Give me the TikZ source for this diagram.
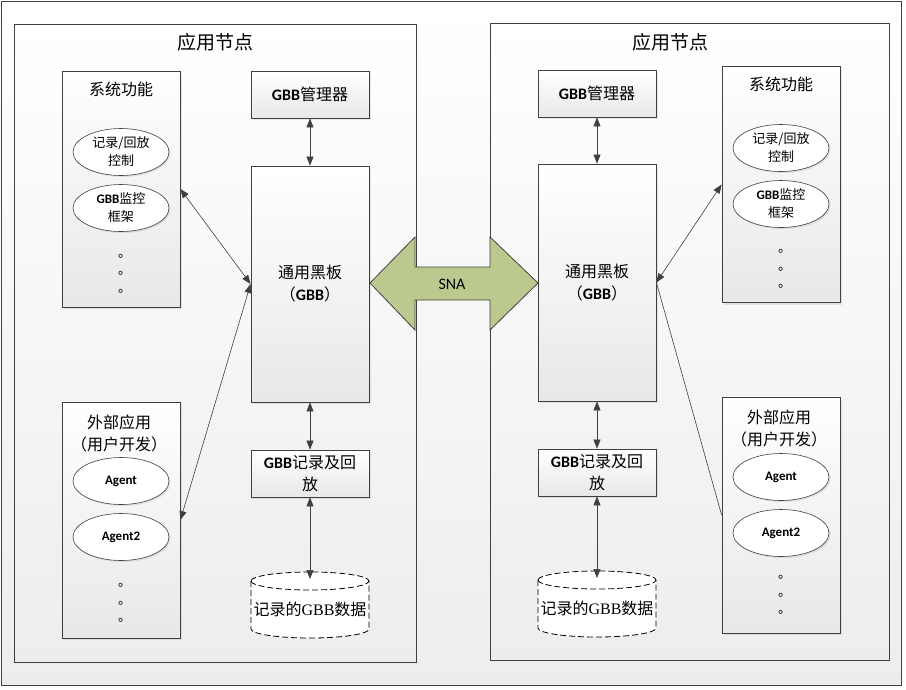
\documentclass[tikz,border=0pt]{standalone}
\usepackage{fontspec}
\setmainfont{Noto Sans CJK SC}
\newfontfamily\latin{Carlito}
\newfontfamily\serif{Liberation Serif}
\usepackage{tikz}
\usetikzlibrary{positioning,shapes.geometric,arrows.meta,shadows}
\tikzset{>={Triangle[length=9pt,width=7pt]}}
\definecolor{line}{RGB}{64,64,64}
\definecolor{snagreen}{RGB}{187,201,143}
\newcommand{\gbb}{{\latin\bfseries GBB}}

\begin{document}
\begin{tikzpicture}[x=1pt,y=-1pt,
  frame/.style={draw=line,line width=.8pt,top color=white,bottom color=black!7},
  box/.style={draw=line,line width=.8pt,top color=white,bottom color=black!9,minimum width=118pt,inner sep=0pt,align=center,
    drop shadow={opacity=.18,shadow xshift=2pt,shadow yshift=-2pt},font=\fontsize{16}{22}\selectfont},
  oval/.style={ellipse,draw=line,line width=.6pt,fill=white,minimum width=96pt,minimum height=47pt,inner sep=0pt,align=center,
    drop shadow={opacity=.18,shadow xshift=1.5pt,shadow yshift=-1.5pt},font=\fontsize{13}{18}\selectfont},
  agent/.style={oval,font=\fontsize{13}{15}\latin\bfseries},
  title/.style={font=\fontsize{16}{22}\selectfont,align=center},
  dot/.style={font=\fontsize{13}{13}\selectfont,inner sep=0pt},
  link/.style={<->,draw=line,line width=.6pt}
]
\useasboundingbox (0,0) rectangle (906,689);
\draw[frame] (1,1) rectangle (901,685);
\draw[frame] (14,24) rectangle (416,662);
\draw[frame] (490,23) rectangle (889,660);
\node[font=\fontsize{19}{22}\selectfont] (ltitle) at (215,42) {应用节点};
\node[font=\fontsize{19}{22}\selectfont] (rtitle) at (670,42) {应用节点};

\draw[draw=line,line width=.8pt,fill=snagreen] (370,283) -- (415,237) -- (415,267) -- (490,267) -- (490,237) -- (538,283)
  -- (490,330) -- (490,300) -- (415,300) -- (415,330) -- cycle;
\node[font=\fontsize{16}{18}\latin] (sna) at (452,284) {SNA};

\node[box,minimum height=236pt] (lsys) at (121,189) {};
\node[title] (lsystitle) at (121,89) {系统功能};
\node[oval] (lrec) at (121,152) {记录/回放\\控制};
\node[oval] (lmon) at (121,208) {\gbb 监控\\框架};
\node[dot] (lsdot1) at (124.5,256) {。};
\node[dot] (lsdot2) at (124.5,273) {。};
\node[dot] (lsdot3) at (124.5,291) {。};

\node[box,minimum height=236pt] (lext) at (121,520) {};
\node[title] (lexttitle) at (119,433) {外部应用\\（用户开发）};
\node[agent] (lagent) at (121,481) {Agent};
\node[agent] (lagent2) at (121,537) {Agent2};
\node[dot] (ledot1) at (124.5,585) {。};
\node[dot] (ledot2) at (124.5,603) {。};
\node[dot] (ledot3) at (124.5,620) {。};

\node[box,minimum height=47pt] (lmgr) at (310,94.5) {\gbb 管理器};
\node[box,minimum height=236pt] (lgbb) at (310,284) {通用黑板\\（\gbb）};
\node[box,minimum height=47pt] (lplay) at (310,473.5) {\gbb 记录及回\\放};
\draw[line width=.8pt,dash pattern=on 6pt off 3pt,fill=white] (251,581) -- (251,629) arc[start angle=180,end angle=0,x radius=59,y radius=9]
  -- (369,581) arc[start angle=0,end angle=-180,x radius=59,y radius=9];
\draw[line width=.8pt,dash pattern=on 6pt off 3pt] (251,581) arc[start angle=180,end angle=0,x radius=59,y radius=9];
\coordinate (ldb) at (310,579);
\node[font=\fontsize{16}{18}\selectfont] (ldbtext) at (310,609) {记录的{\serif GBB}数据};

\draw[link] (lmgr) -- (lgbb);
\draw[link] (lgbb) -- (lplay);
\draw[link] (lplay) -- (ldb);
\draw[link] (lsys.east) -- (lgbb.west);
\draw[link] (lgbb.west) -- (lext.east);

\node[box,minimum height=236pt] (rsys) at (781,184.5) {};
\node[title] (rsystitle) at (781,84) {系统功能};
\node[oval] (rrec) at (781,148) {记录/回放\\控制};
\node[oval] (rmon) at (781,204) {\gbb 监控\\框架};
\node[dot] (rsdot1) at (784.5,251) {。};
\node[dot] (rsdot2) at (784.5,269) {。};
\node[dot] (rsdot3) at (784.5,286) {。};

\node[box,minimum height=236pt] (rext) at (781,515) {};
\node[title] (rexttitle) at (779,428) {外部应用\\（用户开发）};
\node[agent] (ragent) at (781,477) {Agent};
\node[agent] (ragent2) at (781,533) {Agent2};
\node[dot] (redot1) at (784.5,577) {。};
\node[dot] (redot2) at (784.5,595) {。};
\node[dot] (redot3) at (784.5,612) {。};

\node[box,minimum height=47pt] (rmgr) at (597,93.5) {\gbb 管理器};
\node[box,minimum height=237pt] (rgbb) at (597,282.5) {通用黑板\\（\gbb）};
\node[box,minimum height=47pt] (rplay) at (597,472.5) {\gbb 记录及回\\放};
\draw[line width=.8pt,dash pattern=on 6pt off 3pt,fill=white] (538,580) -- (538,628) arc[start angle=180,end angle=0,x radius=59,y radius=9]
  -- (656,580) arc[start angle=0,end angle=-180,x radius=59,y radius=9];
\draw[line width=.8pt,dash pattern=on 6pt off 3pt] (538,580) arc[start angle=180,end angle=0,x radius=59,y radius=9];
\coordinate (rdb) at (597,578);
\node[font=\fontsize{16}{18}\selectfont] (rdbtext) at (597,608) {记录的{\serif GBB}数据};

\draw[link] (rmgr) -- (rgbb);
\draw[link] (rgbb) -- (rplay);
\draw[link] (rplay) -- (rdb);
\draw[link] (rgbb.east) -- (rsys.west);
\draw[draw=line,line width=.6pt] (rgbb.east) -- (rext.west);
\end{tikzpicture}
\end{document}
